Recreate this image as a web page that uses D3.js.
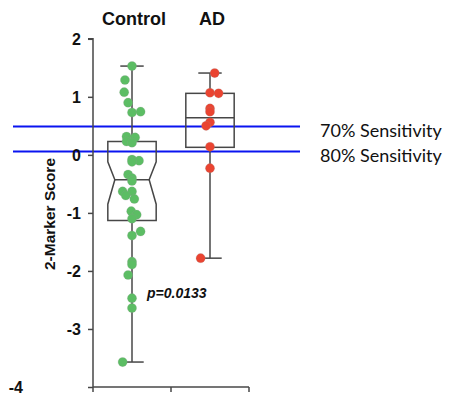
<!DOCTYPE html>
<html>
<head>
<meta charset="utf-8">
<script src="https://cdn.jsdelivr.net/npm/d3@7"></script>
<style>
  html, body { margin: 0; padding: 0; background: #fff; }
  svg { display: block; }
</style>
</head>
<body>
<svg id="chart" width="449" height="400"></svg>
<script>
// ---- data ----
const categories = ["Control", "AD"];
const yTicks = [-4, -3, -2, -1, 0, 1, 2];

// individual scores
const controlValues = [1.53, 1.29, 1.08, 0.90, 0.73, 0.745, 0.315, 0.30, 0.23, 0.21,
  -0.08, -0.10, -0.12, -0.34, -0.40, -0.45, -0.63, -0.63, -0.70, -0.76,
  -0.97, -1.03, -1.10, -1.32, -1.39, -1.84, -1.89, -2.07, -2.47, -2.64, -3.57];
// horizontal jitter as a fraction of the category band
const controlJitter = [0, -0.09, -0.10, -0.05, 0, 0.11, -0.07, 0.04, -0.07, 0,
  0, 0.09, 0, -0.05, 0, 0, -0.12, 0, -0.08, 0.03,
  -0.01, 0.06, 0, 0.11, 0, 0, 0, -0.05, 0, 0, -0.12];
const adValues = [1.41, 1.07, 1.06, 0.80, 0.745, 0.56, 0.50, 0.14, -0.23, -1.78];
const adJitter = [0.06, 0, 0.11, 0, 0, 0, -0.05, 0, 0, -0.12];

// box statistics: [whiskerLow, q1, median, q3, whiskerHigh]
const controlBox = [-3.57, -1.13, -0.43, 0.23, 1.53];
const controlNotch = [-0.85, -0.12];
const adBox = [-1.78, 0.13, 0.64, 1.06, 1.41];

const thresholds = [0.49, 0.06];
const thresholdLabels = ["70% Sensitivity", "80% Sensitivity"];
const pValueLabel = "p=0.0133";
const yAxisTitle = "2-Marker Score";

// ---- drawing ----
const svg = d3.select("#chart");
const x = d3.scaleBand().domain(categories).range([93, 249]).padding(0);
const y = d3.scaleLinear().domain([-4, 2]).range([387, 38.8]);
const bw = x.bandwidth();
const lineColor = "#474747";

// threshold lines
svg.selectAll("line.thr").data(thresholds).join("line")
  .attr("class", "thr")
  .attr("x1", 13).attr("x2", 300)
  .attr("y1", d => y(d)).attr("y2", d => y(d))
  .attr("stroke", "#0a14f0").attr("stroke-width", 2);

svg.selectAll("text.thr").data(thresholdLabels).join("text")
  .attr("class", "thr")
  .attr("x", 320)
  .attr("y", (d, i) => y(thresholds[i]) + 11)
  .attr("font-family", "Lato, 'Open Sans', sans-serif")
  .attr("font-size", 18)
  .attr("fill", "#111")
  .text(d => d);

// y axis
const yAxis = d3.axisLeft(y).tickValues(yTicks).tickSize(5).tickPadding(8).tickFormat(d => String(d));
const gy = svg.append("g").attr("transform", "translate(93,0)").call(yAxis);
gy.select(".domain").attr("stroke", lineColor).attr("stroke-width", 1.5).attr("d", `M-5,${y(2)}H0V${y(-4)}`);
gy.selectAll(".tick line").attr("stroke", lineColor).attr("stroke-width", 1.5);
gy.selectAll(".tick text")
  .attr("font-family", "'Liberation Sans', Arial, sans-serif")
  .attr("font-weight", "bold").attr("font-size", 16).attr("fill", "#111")
  .attr("dy", "0.36em")
  .attr("x", d => d === -4 ? -70 : -12);

// x axis
const gx = svg.append("g").attr("transform", `translate(0,${y(-4)})`);
gx.append("line").attr("x1", 93).attr("x2", 249).attr("y1", 0).attr("y2", 0)
  .attr("stroke", lineColor).attr("stroke-width", 1.5);
const xBoundaries = [93].concat(categories.map(c => x(c) + bw));
gx.selectAll("line.tk").data(xBoundaries).join("line").attr("class", "tk")
  .attr("x1", d => d).attr("x2", d => d).attr("y1", 0).attr("y2", 5)
  .attr("stroke", lineColor).attr("stroke-width", 1.5);

// category labels on top
svg.selectAll("text.cat").data(categories).join("text").attr("class", "cat")
  .attr("x", d => x(d) + bw / 2 + 2)
  .attr("y", 25)
  .attr("text-anchor", "middle")
  .attr("font-family", "'Liberation Sans', Arial, sans-serif")
  .attr("font-weight", "bold").attr("font-size", 18).attr("fill", "#111")
  .text(d => d);

// y title
svg.append("text")
  .attr("transform", `translate(55,${214}) rotate(-90)`)
  .attr("text-anchor", "middle")
  .attr("font-family", "'Liberation Sans', Arial, sans-serif")
  .attr("font-weight", "bold").attr("font-size", 15.5).attr("fill", "#111")
  .text(yAxisTitle);

// boxes
function drawBox(cat, s, notch) {
  const cx = x(cat) + bw / 2;
  const half = bw * 0.31;
  const capHalf = bw * 0.15;
  const g = svg.append("g").attr("fill", "none").attr("stroke", lineColor).attr("stroke-width", 1.5);
  g.append("line").attr("x1", cx).attr("x2", cx).attr("y1", y(s[3])).attr("y2", y(s[4]));
  g.append("line").attr("x1", cx).attr("x2", cx).attr("y1", y(s[1])).attr("y2", y(s[0]));
  g.append("line").attr("x1", cx - capHalf).attr("x2", cx + capHalf).attr("y1", y(s[4])).attr("y2", y(s[4]));
  g.append("line").attr("x1", cx - capHalf).attr("x2", cx + capHalf).attr("y1", y(s[0])).attr("y2", y(s[0]));
  if (notch) {
    const nh = bw * 0.22;
    const p = d3.path();
    p.moveTo(cx - half, y(s[3]));
    p.lineTo(cx + half, y(s[3]));
    p.lineTo(cx + half, y(notch[1]));
    p.lineTo(cx + nh, y(s[2]));
    p.lineTo(cx + half, y(notch[0]));
    p.lineTo(cx + half, y(s[1]));
    p.lineTo(cx - half, y(s[1]));
    p.lineTo(cx - half, y(notch[0]));
    p.lineTo(cx - nh, y(s[2]));
    p.lineTo(cx - half, y(notch[1]));
    p.closePath();
    g.append("path").attr("d", p.toString());
    g.append("line").attr("x1", cx - nh).attr("x2", cx + nh).attr("y1", y(s[2])).attr("y2", y(s[2]));
  } else {
    g.append("rect").attr("x", cx - half).attr("y", y(s[3]))
      .attr("width", half * 2).attr("height", y(s[1]) - y(s[3]));
    g.append("line").attr("x1", cx - half).attr("x2", cx + half).attr("y1", y(s[2])).attr("y2", y(s[2]));
  }
}
drawBox("Control", controlBox, controlNotch);
drawBox("AD", adBox, null);

// points
function drawPoints(cat, vals, jit, color) {
  const cx = x(cat) + bw / 2;
  svg.append("g").selectAll("circle").data(vals).join("circle")
    .attr("cx", (d, i) => cx + jit[i] * bw)
    .attr("cy", d => y(d))
    .attr("r", 4.6)
    .attr("fill", color)
    .attr("stroke", "rgba(150,150,150,0.35)")
    .attr("stroke-width", 0.6);
}
drawPoints("Control", controlValues, controlJitter, "#5cbd64");
drawPoints("AD", adValues, adJitter, "#ea4431");

// p-value
svg.append("text")
  .attr("x", 147).attr("y", 298)
  .attr("font-family", "'Liberation Sans', Arial, sans-serif")
  .attr("font-weight", "bold").attr("font-style", "italic")
  .attr("font-size", 14).attr("fill", "#111")
  .text(pValueLabel);
</script>
</body>
</html>
